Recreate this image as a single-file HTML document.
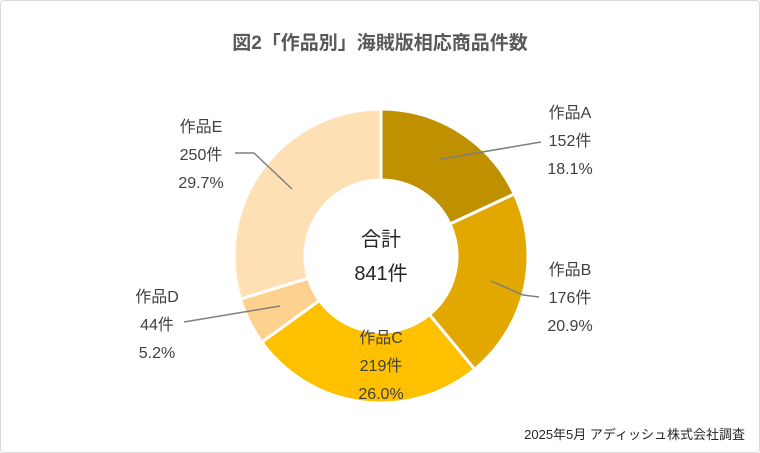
<!DOCTYPE html>
<html><head><meta charset="utf-8"><style>
body{margin:0;background:#fff;}
#c{position:relative;width:758px;height:451px;border:1px solid #d9d9d9;border-radius:4px;overflow:hidden;font-family:"Liberation Sans","Noto Sans CJK JP",sans-serif;color:#404040;}
.t{position:absolute;white-space:nowrap;font-size:16px;}
.l{text-align:center;line-height:28px;}
</style></head><body><div id="c">
<svg id="s" width="758" height="451" style="position:absolute;left:0;top:0"></svg>
<div class="t" style="left:0;width:758px;top:27px;text-align:center;font-size:19px;font-weight:bold;color:#595959">図2「作品別」海賊版相応商品件数</div>
<div class="t" style="left:330px;width:100px;top:222px;text-align:center;font-size:20px;line-height:34px;color:#262626">合計<br>841件</div>
<div class="t l" style="left:533px;width:72px;top:99px">作品A<br>152件<br>18.1%</div>
<div class="t l" style="left:533px;width:72px;top:256px">作品B<br>176件<br>20.9%</div>
<div class="t l" style="left:335px;width:90px;top:324px">作品C<br>219件<br>26.0%</div>
<div class="t l" style="left:120px;width:72px;top:283px">作品D<br>44件<br>5.2%</div>
<div class="t l" style="left:164px;width:72px;top:113px">作品E<br>250件<br>29.7%</div>
<div class="t" style="right:14px;top:423px;font-size:13px;color:#262626">2025年5月 アディッシュ株式会社調査</div>
</div>
<script>
var s=document.getElementById('s'),cx=380,cy=255,R=147,r=76;
var v=[152,176,219,44,250],col=['#BF9000','#E2A800','#FFC000','#FFD18F','#FFE0B5'];
var tot=841,a=0,h='';
function p(an,rad){return [cx+rad*Math.sin(an),cy-rad*Math.cos(an)];}
for(var i=0;i<5;i++){var b=a+v[i]/tot*2*Math.PI;var lg=(b-a)>Math.PI?1:0;
var p1=p(a,R),p2=p(b,R),p3=p(b,r),p4=p(a,r);
h+='<path d="M'+p1+' A'+R+','+R+' 0 '+lg+' 1 '+p2+' L'+p3+' A'+r+','+r+' 0 '+lg+' 0 '+p4+'Z" fill="'+col[i]+'" stroke="#fff" stroke-width="3"/>';a=b;}
h+='<g fill="none" stroke="#7f7f7f" stroke-width="1.5"><polyline points="440,158 540,141"/><polyline points="490,280 522,294 538,296"/><polyline points="291,188 253,152 234,152"/><polyline points="183,321 279,305"/></g>';
s.innerHTML=h;
</script>
</body></html>
